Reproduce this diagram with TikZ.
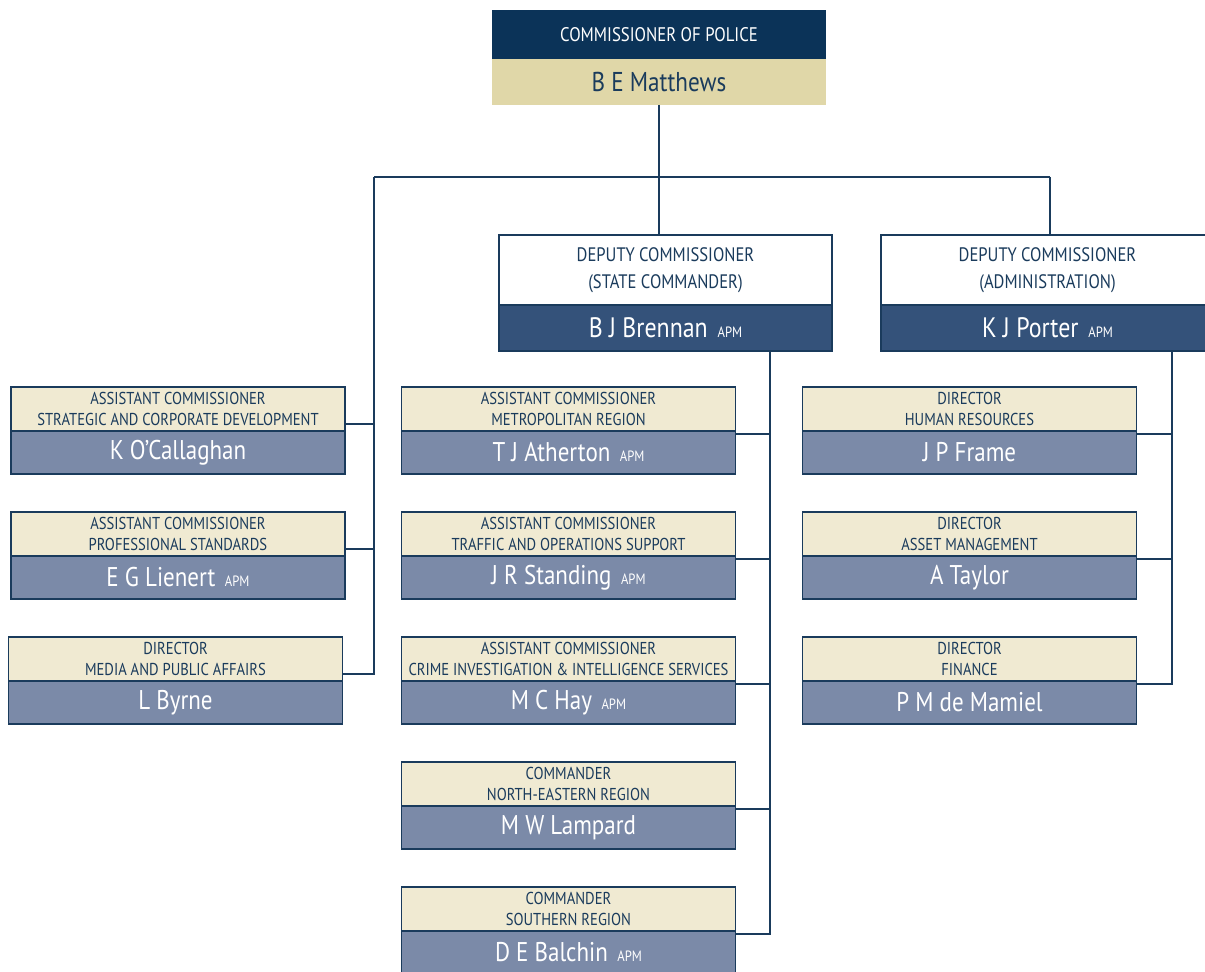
\documentclass[tikz,border=0pt]{standalone}
\usepackage{fontspec}
\setmainfont{PT Sans}[FakeStretch=0.85]
\usetikzlibrary{positioning}

\definecolor{navy}{HTML}{0B3358}
\definecolor{tan}{HTML}{E0D7A8}
\definecolor{band}{HTML}{34527A}
\definecolor{cream}{HTML}{F0EAD2}
\definecolor{slate}{HTML}{7B8AA8}
\definecolor{ink}{HTML}{1A3B5C}

\newcommand{\apmtag}{\hspace{0.35em}{\fontsize{8.5}{9}\selectfont APM}}

\tikzset{
	link/.style={draw=ink,line width=1.5pt},
	hdr/.style={draw=ink,line width=0.8pt,fill=cream,text=ink,align=center,
		minimum width=6.68cm,minimum height=0.88cm,inner sep=0pt,outer sep=0pt,
		font=\fontsize{9.8}{11.8}\selectfont},
	nme/.style={draw=ink,line width=0.8pt,fill=slate,text=white,align=center,
		minimum width=6.68cm,minimum height=0.86cm,inner sep=0pt,outer sep=0pt,
		font=\fontsize{15.4}{17}\selectfont},
	dephdr/.style={hdr,fill=white,minimum width=6.66cm,minimum height=1.4cm,
		font=\fontsize{11.1}{15.5}\selectfont},
	depnme/.style={nme,fill=band,minimum width=6.66cm,minimum height=0.92cm,
		font=\fontsize{16}{18}\selectfont}
}

\begin{document}
\begin{tikzpicture}[x=0.02cm,y=-0.02cm]

\useasboundingbox (0,0) rectangle (1205,972);

% commissioner
\node[fill=navy,text=white,minimum width=6.68cm,minimum height=0.98cm,inner sep=0pt,
	outer sep=0pt,font=\fontsize{11.2}{13}\selectfont] (cop-h) at (659,34.5) {COMMISSIONER OF POLICE};
\node[fill=tan,text=ink,minimum width=6.68cm,minimum height=0.92cm,inner sep=0pt,
	outer sep=0pt,font=\fontsize{15.5}{17}\selectfont,below=0pt of cop-h] (cop) {B E Matthews};

% deputies
\node[dephdr] (dsc-h) at (665.5,270) {DEPUTY COMMISSIONER\\(STATE COMMANDER)};
\node[depnme,below=0pt of dsc-h] (dsc) {B J Brennan\apmtag};

\node[dephdr] (dad-h) at (1047.5,270) {DEPUTY COMMISSIONER\\(ADMINISTRATION)};
\node[depnme,below=0pt of dad-h] (dad) {K J Porter\apmtag};

% left column
\node[hdr] (sdc-h) at (178,409) {ASSISTANT COMMISSIONER\\STRATEGIC AND CORPORATE DEVELOPMENT};
\node[nme,below=0pt of sdc-h] (sdc) {K O’Callaghan};

\node[hdr] (ps-h) at (178,534) {ASSISTANT COMMISSIONER\\PROFESSIONAL STANDARDS};
\node[nme,below=0pt of ps-h] (ps) {E G Lienert\apmtag};

\node[hdr] (mpa-h) at (175.5,659) {DIRECTOR\\MEDIA AND PUBLIC AFFAIRS};
\node[nme,below=0pt of mpa-h] (mpa) {L Byrne};

% middle column
\node[hdr] (mr-h) at (568.5,409) {ASSISTANT COMMISSIONER\\METROPOLITAN REGION};
\node[nme,below=0pt of mr-h] (mr) {T J Atherton\apmtag};

\node[hdr] (tos-h) at (568.5,534) {ASSISTANT COMMISSIONER\\TRAFFIC AND OPERATIONS SUPPORT};
\node[nme,below=0pt of tos-h] (tos) {J R Standing\apmtag};

\node[hdr] (cii-h) at (568.5,659) {ASSISTANT COMMISSIONER\\CRIME INVESTIGATION \& INTELLIGENCE SERVICES};
\node[nme,below=0pt of cii-h] (cii) {M C Hay\apmtag};

\node[hdr] (ner-h) at (568.5,784) {COMMANDER\\NORTH-EASTERN REGION};
\node[nme,below=0pt of ner-h] (ner) {M W Lampard};

\node[hdr] (sr-h) at (568.5,909) {COMMANDER\\SOUTHERN REGION};
\node[nme,below=0pt of sr-h] (sr) {D E Balchin\apmtag};

% right column
\node[hdr] (hr-h) at (969.5,409) {DIRECTOR\\HUMAN RESOURCES};
\node[nme,below=0pt of hr-h] (hr) {J P Frame};

\node[hdr] (am-h) at (969.5,534) {DIRECTOR\\ASSET MANAGEMENT};
\node[nme,below=0pt of am-h] (am) {A Taylor};

\node[hdr] (fin-h) at (969.5,659) {DIRECTOR\\FINANCE};
\node[nme,below=0pt of fin-h] (fin) {P M de Mamiel};

% lines
\coordinate (jl) at (374,177);
\coordinate (jr) at (1050,177);
\coordinate (ms) at (770,351);
\coordinate (rs) at (1172,351);

\draw[link] (cop.south) -- (cop.south |- dsc-h.north);
\draw[link] (jl) -- (jr);
\draw[link] (jr) -- (jr |- dad-h.north);

\foreach \n in {sdc-h,ps-h,mpa-h}
	\draw[link] (jl) |- ([yshift=0.14cm]\n.south east);
\foreach \n in {mr-h,tos-h,cii-h,ner-h,sr-h}
	\draw[link] (ms) |- ([yshift=-0.06cm]\n.south east);
\foreach \n in {hr-h,am-h,fin-h}
	\draw[link] (rs) |- ([yshift=-0.06cm]\n.south east);

\end{tikzpicture}
\end{document}
